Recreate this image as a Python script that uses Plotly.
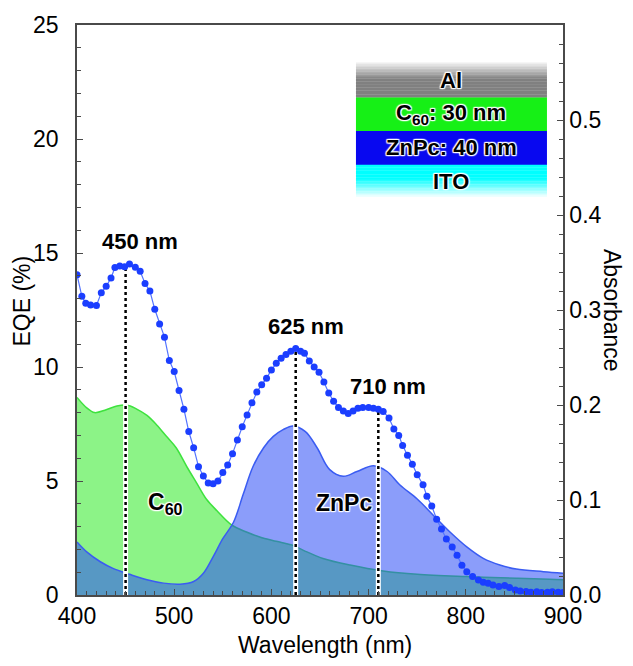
import numpy as np
import plotly.graph_objects as go

# ---------------- data ----------------
# External quantum efficiency of the ZnPc/C60 cell (%)
wl_eqe = [400, 405, 409, 414, 420, 425, 430, 435, 439, 444, 449, 454, 460, 465, 470,
          475, 480, 485, 490, 495, 500, 505, 510, 515, 520, 525, 530, 535, 540, 545,
          550, 555, 560, 565, 570, 575, 580, 585, 590, 595, 600, 605, 610, 615, 620,
          625, 630, 634, 639, 644, 649, 654, 659, 664, 669, 674, 679, 684, 689, 694,
          700, 705, 710, 715, 721, 726, 731, 735, 740, 745, 750, 756, 760, 765, 770,
          775, 780, 786, 791, 796, 801, 807, 813, 818, 823, 828, 834, 840, 845, 851,
          856, 862, 867, 873, 878, 884, 889, 895, 900]
eqe = [14.05, 13.1, 12.8, 12.72, 12.7, 13.26, 13.54, 13.9, 14.36, 14.43, 14.4, 14.52, 14.38, 14.2, 13.66,
       13.33, 12.53, 11.89, 11.31, 10.28, 9.8, 8.97, 8.15, 7.17, 6.46, 5.63, 5.22, 4.91, 4.88, 5.0,
       5.37, 5.7, 6.2, 6.8, 7.38, 7.9, 8.43, 8.9, 9.22, 9.51, 9.87, 10.16, 10.38, 10.55, 10.69,
       10.81, 10.69, 10.6, 10.26, 10.0, 9.77, 9.34, 8.86, 8.5, 8.22, 8.07, 7.96, 8.07, 8.19, 8.22,
       8.22, 8.19, 8.15, 8.05, 7.76, 7.28, 7.0, 6.56, 6.13, 5.74, 5.27, 4.84, 4.33, 3.9, 3.32,
       2.89, 2.46, 2.1, 1.74, 1.31, 1.02, 0.81, 0.66, 0.56, 0.52, 0.44, 0.37, 0.42, 0.33, 0.22,
       0.18, 0.15, 0.12, 0.14, 0.11, 0.12, 0.14, 0.12, 0.11]

# Absorbance of the C60 film
wl_c60 = [400, 410, 418, 430, 441, 451, 461, 472, 482, 492, 502, 513, 523, 533, 544,
          559, 575, 588, 605, 622, 633, 653, 681, 715, 750, 801, 852, 886, 900]
abs_c60 = [0.208, 0.197, 0.192, 0.195, 0.199, 0.2, 0.196, 0.189, 0.179, 0.167, 0.155, 0.135, 0.118, 0.101, 0.0887,
           0.0738, 0.066, 0.061, 0.0565, 0.0523, 0.047, 0.0385, 0.0315, 0.0253, 0.0218, 0.0194, 0.0177, 0.0166, 0.016]

# Absorbance of the ZnPc film
wl_znpc = [400, 410, 424, 437, 454, 472, 489, 506, 520, 530, 540, 550, 561, 571, 581,
           592, 602, 612, 622, 635, 647, 660, 674, 688, 705, 719, 732, 750, 767, 784,
           801, 818, 835, 852, 880, 900]
abs_znpc = [0.0558, 0.0454, 0.035, 0.028, 0.0218, 0.016, 0.0125, 0.0114, 0.0142, 0.0229, 0.0402, 0.0593, 0.0766, 0.106, 0.135,
            0.155, 0.167, 0.174, 0.178, 0.172, 0.155, 0.132, 0.125, 0.13, 0.136, 0.13, 0.116, 0.101, 0.0835, 0.066,
            0.0506, 0.0385, 0.0315, 0.0273, 0.0246, 0.023]

peak_wl = [450, 625, 710]
peak_labels = ["450 nm", "625 nm", "710 nm"]

x_ticks = [400, 500, 600, 700, 800, 900]
eqe_ticks = [0, 5, 10, 15, 20, 25]
abs_ticks = [0.0, 0.1, 0.2, 0.3, 0.4, 0.5]

stack_layers = ["Al", "C<sub>60</sub>: 30 nm", "ZnPc: 40 nm", "ITO"]

# ---------------- styling ----------------
FONT = "Liberation Sans, Arial, Helvetica, sans-serif"
AXIS = "#4a4a4a"
HALO = ("white 0px 0px 2px, white 0px 0px 2px, white 1px 1px 1px, white -1px -1px 1px, "
        "white 1px -1px 1px, white -1px 1px 1px")

fig = go.Figure()

# absorbance areas (right axis, drawn underneath)
fig.add_trace(go.Scatter(
    x=wl_c60, y=abs_c60, yaxis="y", mode="lines", fill="tozeroy",
    fillcolor="rgb(140,243,135)",
    line=dict(color="#3ee23e", width=1.5, shape="spline"),
    hoverinfo="skip", showlegend=False))
fig.add_trace(go.Scatter(
    x=wl_znpc, y=abs_znpc, yaxis="y", mode="lines", fill="tozeroy",
    fillcolor="rgba(44,77,246,0.55)",
    line=dict(color="#3a5cf2", width=1.5, shape="spline"),
    hoverinfo="skip", showlegend=False))

# dotted markers from the EQE curve down to the axis
for p in peak_wl:
    top = float(np.interp(p, wl_eqe, eqe))
    fig.add_trace(go.Scatter(
        x=[p, p], y=[0, top], yaxis="y2", mode="lines",
        line=dict(color="white", width=5), hoverinfo="skip", showlegend=False))
    fig.add_trace(go.Scatter(
        x=[p, p], y=[0, top], yaxis="y2", mode="lines",
        line=dict(color="black", width=2.5, dash="dot"), hoverinfo="skip", showlegend=False))

# EQE spectrum (left axis)
fig.add_trace(go.Scatter(
    x=wl_eqe, y=eqe, yaxis="y2", mode="lines+markers",
    line=dict(color="#5474ff", width=1.2),
    marker=dict(color="#1b3eff", size=7),
    showlegend=False))

# peak labels
for p, lab, dx, dy in zip(peak_wl, peak_labels, [14, 10, 10], [10, 8, 8]):
    top = float(np.interp(p, wl_eqe, eqe))
    fig.add_annotation(x=p, y=top, xref="x", yref="y2", text=lab, showarrow=False,
                       xshift=dx, yshift=dy, yanchor="bottom", xanchor="center",
                       font=dict(family=FONT, size=22, color="black", weight="bold", shadow=HALO))

fig.add_annotation(x=491, y=4.0, xref="x", yref="y2", text="C<sub>60</sub>", showarrow=False,
                   xanchor="center",
                   font=dict(family=FONT, size=23, color="black", weight="bold", shadow=HALO))
fig.add_annotation(x=675, y=4.05, xref="x", yref="y2", text="ZnPc", showarrow=False,
                   xanchor="center",
                   font=dict(family=FONT, size=23, color="black", weight="bold", shadow=HALO))

# ---------------- device stack sketch ----------------
x0, x1 = 0.574, 0.967
bounds = [0.934, 0.873, 0.814, 0.755, 0.696]


def stripes(ytop, ybot, colors):
    n = len(colors)
    h = (ytop - ybot) / n
    for i, c in enumerate(colors):
        fig.add_shape(type="rect", xref="paper", yref="paper",
                      x0=x0, x1=x1, y0=ytop - (i + 1) * h - 0.0005, y1=ytop - i * h,
                      fillcolor=c, line=dict(width=0), layer="above")


n = 24
al_cols = []
for i in range(n):
    t = min(1.0, i / (n * 0.45))
    v = int(round(238 - (238 - 128) * t))
    al_cols.append(f"rgb({v},{v},{v})")
stripes(bounds[0], bounds[1], al_cols)
stripes(bounds[1], bounds[2], ["rgb(22,240,22)"])
stripes(bounds[2], bounds[3], ["rgb(8,8,240)"])
ito_cols = []
for i in range(n):
    t = max(0.0, (i / (n - 1) - 0.4) / 0.6)
    r = int(round(0 + 255 * t))
    ito_cols.append(f"rgb({r},255,255)")
stripes(bounds[3], bounds[4], ito_cols)

for k, lab in enumerate(stack_layers):
    yc = (bounds[k] + bounds[k + 1]) / 2
    fig.add_annotation(x=(x0 + x1) / 2, y=yc, xref="paper", yref="paper", text=lab,
                       showarrow=False, yanchor="middle", xanchor="center",
                       font=dict(family=FONT, size=22, color="black", weight="bold", shadow=HALO))

# ---------------- axis titles ----------------
fig.add_annotation(x=-0.113, y=0.515, xref="paper", yref="paper", text="EQE (%)",
                   textangle=-90, showarrow=False, xanchor="center", yanchor="middle",
                   font=dict(family=FONT, size=23, color="black"))
fig.add_annotation(x=1.101, y=0.5, xref="paper", yref="paper", text="Absorbance",
                   textangle=90, showarrow=False, xanchor="center", yanchor="middle",
                   font=dict(family=FONT, size=23, color="black"))
fig.add_annotation(x=0.51, y=-0.087, xref="paper", yref="paper", text="Wavelength (nm)",
                   showarrow=False, yanchor="middle", xanchor="center",
                   font=dict(family=FONT, size=23, color="black"))

tick_common = dict(ticks="inside", ticklen=6, tickwidth=1.2, tickcolor=AXIS,
                   showline=True, linecolor=AXIS, linewidth=1.5,
                   showgrid=False, zeroline=False,
                   tickfont=dict(family=FONT, size=23, color="black"))

fig.update_layout(
    width=633, height=666, autosize=False,
    margin=dict(l=77, r=70, t=20, b=71),
    paper_bgcolor="white", plot_bgcolor="white",
    xaxis=dict(range=[400, 900], tickvals=x_ticks, mirror=True,
               minor=dict(ticks="inside", dtick=10, ticklen=4, tickcolor=AXIS),
               **tick_common),
    yaxis=dict(range=[0, 0.6], side="right", tickvals=abs_ticks, tickformat=".1f",
               minor=dict(ticks="inside", dtick=0.02, ticklen=4, tickcolor=AXIS),
               **tick_common),
    yaxis2=dict(range=[0, 25], side="left", overlaying="y", tickvals=eqe_ticks,
                minor=dict(ticks="inside", dtick=1, ticklen=4, tickcolor=AXIS),
                ticklabelstandoff=12,
                **tick_common),
)

fig.write_html("out.html")
